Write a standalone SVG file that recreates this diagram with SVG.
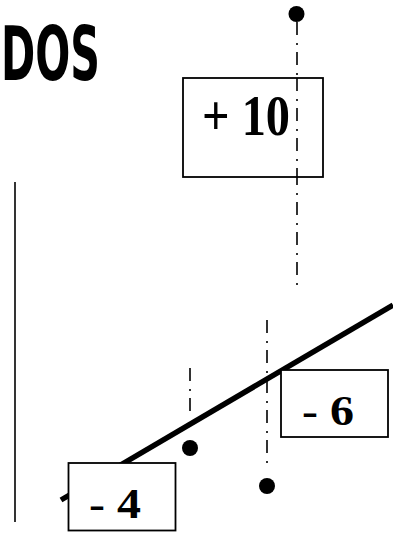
<svg xmlns="http://www.w3.org/2000/svg" width="393" height="538" viewBox="0 0 393 538">
<style>
.dd{stroke:#000;stroke-width:1.6;fill:none;stroke-dasharray:13 8 2 7}
.box{fill:#fff;stroke:#000;stroke-width:1.8}
.lbl{font-family:"Liberation Serif","Times New Roman",serif;font-weight:bold;fill:#000}
.dot{fill:#000}
</style>
<rect width="393" height="538" fill="#fff"/>
<text x="1" y="80" font-family="'Liberation Sans Narrow','DejaVu Sans Condensed',sans-serif" font-weight="bold" font-size="74" textLength="99" lengthAdjust="spacingAndGlyphs" fill="#000">DOS</text>
<line x1="15" y1="182" x2="15" y2="522" stroke="#000" stroke-width="1.6"/>
<g id="connectors">
<line class="dd" x1="297" y1="22" x2="297" y2="288"/>
<line class="dd" x1="190" y1="368" x2="190" y2="414"/>
<line class="dd" x1="267" y1="320" x2="267" y2="464"/>
<line x1="61" y1="500" x2="393" y2="305" stroke="#000" stroke-width="5.5"/>
</g>
<g id="dot-top"><circle class="dot" cx="296.5" cy="14" r="8"/></g>
<g id="dot-mid"><circle class="dot" cx="190" cy="448" r="8"/></g>
<g id="dot-low"><circle class="dot" cx="267" cy="486" r="8"/></g>
<g id="box-plus10">
<rect class="box" x="183" y="78" width="140" height="99"/>
<text class="lbl" x="202" y="135" font-size="56" textLength="88" lengthAdjust="spacingAndGlyphs">+ 10</text>
</g>
<line class="dd" x1="297" y1="78" x2="297" y2="177"/>
<g id="box-minus6">
<rect class="box" x="281" y="370" width="107" height="67"/>
<text class="lbl" x="302" y="425" font-size="42" textLength="52" lengthAdjust="spacingAndGlyphs">- 6</text>
</g>
<g id="box-minus4">
<rect class="box" x="68.5" y="463" width="107" height="67.5"/>
<text class="lbl" x="89" y="518" font-size="42" textLength="52" lengthAdjust="spacingAndGlyphs">- 4</text>
</g>
</svg>
